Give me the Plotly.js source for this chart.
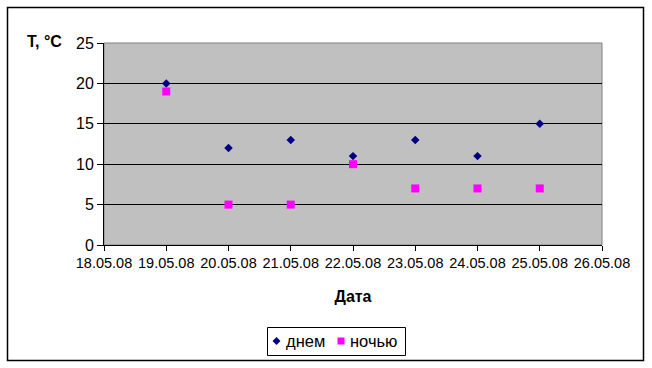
<!DOCTYPE html>
<html><head><meta charset="utf-8">
<script src="https://cdn.plot.ly/plotly-3.0.1.min.js"></script>
<style>body{margin:0;padding:0;background:#fff}#c{width:652px;height:368px}</style>
</head><body><div id="c"></div>
<script>
const dates = ['2008-05-19','2008-05-20','2008-05-21','2008-05-22','2008-05-23','2008-05-24','2008-05-25'];
const dayTemps = [20,12,13,11,13,11,15];
const nightTemps = [19,5,5,10,7,7,7];
const seriesNames = ['днем','ночью'];
const seriesColors = ['#000080','#FF00FF'];

const W=652,H=368,L=104,R=602,T=43,B=245;
const px=x=>(x-L)/(R-L), py=y=>(B-y)/(B-T);
const font={family:'"Liberation Sans", Arial, sans-serif',color:'#000'};
const f=s=>Object.assign({size:s},font);
const data=[
 {x:dates,y:dayTemps,name:seriesNames[0],type:'scatter',mode:'markers',
  marker:{symbol:'diamond',size:6.5,color:seriesColors[0]}},
 {x:dates,y:nightTemps,name:seriesNames[1],type:'scatter',mode:'markers',
  marker:{symbol:'square',size:8,color:seriesColors[1]}}
];
// custom compact legend
const lg={x0:267.5,x1:405.5,y0:327.5,y1:355.5};
const cy=341;
const layout={
 width:W,height:H,margin:{l:L,r:W-R,t:T,b:H-B,autoexpand:false},
 paper_bgcolor:'#fff',plot_bgcolor:'#C0C0C0',showlegend:false,
 font:f(13),
 xaxis:{type:'date',range:['2008-05-18','2008-05-26'],dtick:86400000,tick0:'2008-05-18',
  tickformat:'%d.%m.%y',showgrid:false,zeroline:false,showline:true,linecolor:'#000',linewidth:1,
  ticks:'outside',ticklen:5,tickcolor:'#000',tickfont:f(14.5),automargin:false,
  title:{text:'<b>Дата</b>',font:f(16),standoff:20}},
 yaxis:{range:[0,25],dtick:5,showgrid:true,gridcolor:'#000',gridwidth:1,zeroline:false,automargin:false,
  showline:true,linecolor:'#000',ticks:'outside',ticklen:6,tickcolor:'#000',
  tickfont:f(16)},
 annotations:[
  {text:'<b>T, °C</b>',xref:'paper',yref:'paper',x:px(64),y:py(41),
   xanchor:'right',yanchor:'middle',showarrow:false,font:f(16)},
  {text:seriesNames[0],xref:'paper',yref:'paper',x:px(284),y:py(cy),xanchor:'left',yanchor:'middle',showarrow:false,font:f(16.5)},
  {text:seriesNames[1],xref:'paper',yref:'paper',x:px(348),y:py(cy),xanchor:'left',yanchor:'middle',showarrow:false,font:f(16.5)}
 ],
 shapes:[
  {type:'rect',xref:'paper',yref:'paper',x0:px(7.5),x1:px(643.5),y0:py(7.5),y1:py(360.5),
   line:{color:'#000',width:1.5},layer:'below'},
  {type:'rect',xref:'paper',yref:'paper',x0:0,x1:1,y0:0,y1:1,line:{color:'#808080',width:1},layer:'below'},
  {type:'rect',xref:'paper',yref:'paper',x0:px(lg.x0),x1:px(lg.x1),y0:py(lg.y0),y1:py(lg.y1),
   line:{color:'#000',width:1},fillcolor:'#fff'},
  {type:'path',xref:'paper',yref:'paper',
   path:`M ${px(276.5)} ${py(cy-4)} L ${px(280.5)} ${py(cy)} L ${px(276.5)} ${py(cy+4)} L ${px(272.5)} ${py(cy)} Z`,
   fillcolor:seriesColors[0],line:{width:0}},
  {type:'rect',xref:'paper',yref:'paper',x0:px(337.5),x1:px(344.5),y0:py(cy-3.5),y1:py(cy+3.5),
   fillcolor:seriesColors[1],line:{width:0}}
 ]
};
Plotly.newPlot('c',data,layout,{displayModeBar:false});
</script></body></html>
